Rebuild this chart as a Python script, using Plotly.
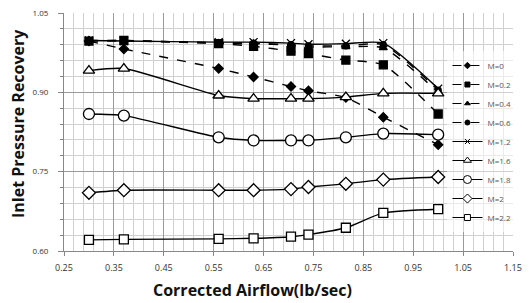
import plotly.graph_objects as go

airflow = [0.30, 0.37, 0.56, 0.63, 0.705, 0.74, 0.815, 0.89, 1.00]

series_names = ["M=0", "M=0.2", "M=0.4", "M=0.6", "M=1.2", "M=1.6", "M=1.8", "M=2", "M=2.2"]
m0 = [0.997, 0.982, 0.945, 0.929, 0.911, 0.903, 0.890, 0.853, 0.801]
m02 = [0.997, 0.998, 0.992, 0.987, 0.978, 0.973, 0.961, 0.952, 0.859]
m04 = [0.998, 0.998, 0.993, 0.992, 0.989, 0.986, 0.986, 0.984, 0.900]
m06 = [0.998, 0.997, 0.994, 0.993, 0.990, 0.988, 0.988, 0.990, 0.904]
m12 = [0.998, 0.997, 0.995, 0.995, 0.993, 0.991, 0.992, 0.993, 0.907]
m16 = [0.941, 0.945, 0.894, 0.888, 0.888, 0.888, 0.891, 0.898, 0.898]
m18 = [0.859, 0.856, 0.815, 0.809, 0.809, 0.809, 0.815, 0.822, 0.820]
m20 = [0.710, 0.715, 0.715, 0.715, 0.717, 0.721, 0.727, 0.735, 0.740]
m22 = [0.621, 0.622, 0.623, 0.624, 0.627, 0.631, 0.644, 0.672, 0.679]

values = [m0, m02, m04, m06, m12, m16, m18, m20, m22]
styles = [
    dict(symbol="diamond", size=7, color="black", dash="dash"),
    dict(symbol="square", size=8, color="black", dash="dash"),
    dict(symbol="triangle-up", size=7, color="black", dash="dash"),
    dict(symbol="circle", size=6, color="black", dash="dash"),
    dict(symbol="x-thin", size=8, color="black", dash="solid"),
    dict(symbol="triangle-up", size=10, color="white", dash="solid"),
    dict(symbol="circle", size=11, color="white", dash="solid"),
    dict(symbol="diamond", size=10, color="white", dash="solid"),
    dict(symbol="square", size=9, color="white", dash="solid"),
]

fig = go.Figure()
for name, vals, st in zip(series_names, values, styles):
    fig.add_trace(go.Scatter(
        x=airflow, y=vals, name=name, mode="lines+markers", showlegend=False,
        line=dict(color="black", width=1.4, dash=st["dash"], shape="spline", smoothing=0.6),
        marker=dict(symbol=st["symbol"], size=st["size"], color=st["color"],
                    line=dict(color="black", width=1.3)),
    ))

# legend-only entries with smaller symbols, like the reference legend
for name, st in zip(series_names, styles):
    fig.add_trace(go.Scatter(
        x=[None], y=[None], name=name, mode="lines+markers", showlegend=True,
        line=dict(color="black", width=1.2, dash=st["dash"]),
        marker=dict(symbol=st["symbol"], size=max(5, st["size"] - 3), color=st["color"],
                    line=dict(color="black", width=1)),
    ))

fig.update_layout(
    width=529, height=303,
    margin=dict(l=64, r=7, t=12, b=52),
    paper_bgcolor="white", plot_bgcolor="white",
    font=dict(family="Open Sans, DejaVu Sans, sans-serif", color="#222"),
    showlegend=True,
    legend=dict(x=0.854, y=0.46, xanchor="left", yanchor="middle",
                bgcolor="rgba(255,255,255,0.55)", borderwidth=0,
                font=dict(size=8, color="#555"), tracegroupgap=0, itemwidth=30,
                entrywidth=50),
    annotations=[
        dict(text="<b>Corrected Airflow(lb/sec)</b>", xref="paper", yref="paper",
             x=0.419, y=-0.163, xanchor="center", yanchor="middle", showarrow=False,
             font=dict(size=16, color="#111")),
        dict(text="<b>Inlet Pressure Recovery</b>", xref="paper", yref="paper",
             x=-0.104, y=0.535, xanchor="center", yanchor="middle", showarrow=False,
             textangle=-90, font=dict(size=16, color="#111")),
    ],
)
fig.update_xaxes(
    range=[0.25, 1.15], tick0=0.25, dtick=0.1, tickformat=".2f",
    showgrid=True, gridcolor="#9a9a9a", gridwidth=1,
    minor=dict(dtick=0.02, tick0=0.25, showgrid=True, gridcolor="#d0d0d0", gridwidth=1),
    showline=True, linecolor="#888", ticks="outside", ticklen=4, tickcolor="#888",
    tickfont=dict(size=9, color="#333"), ticklabelstandoff=4,
    zeroline=False,
)
fig.update_yaxes(
    range=[0.60, 1.05], tick0=0.60, dtick=0.15, tickformat=".2f",
    showgrid=True, gridcolor="#9a9a9a", gridwidth=1,
    minor=dict(dtick=0.03, tick0=0.60, showgrid=True, gridcolor="#d0d0d0", gridwidth=1,
               ticks="outside", ticklen=3, tickcolor="#888"),
    showline=True, linecolor="#888", ticks="outside", ticklen=5, tickcolor="#888",
    tickfont=dict(size=8, color="#333"), ticklabelstandoff=8,
    zeroline=False,
)

# remove the page's default 8px body margin so the figure fills the window exactly
fig.write_html("out.html", config={"displayModeBar": False},
               post_script="document.body.style.margin='0px';")
